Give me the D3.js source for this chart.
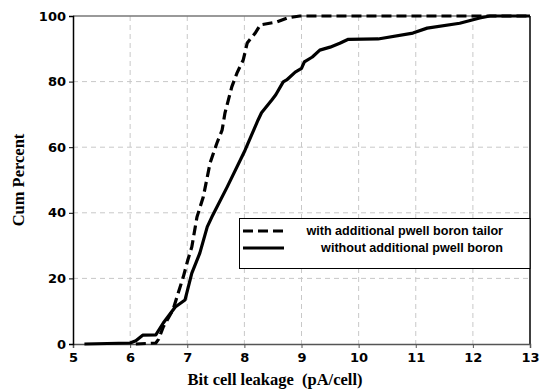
<!DOCTYPE html>
<meta charset="utf-8">
<style>
body { margin: 0; background: #fff; }
.grid line { stroke: #c8c8c8; stroke-width: 1px; stroke-dasharray: 5,4; }
.tick text { font-family: "DejaVu Sans", sans-serif; font-weight: bold; font-size: 13px; fill: #000; }
.title { font-family: "Liberation Serif", serif; font-weight: bold; font-size: 16.5px; }
.legend text { font-family: "Liberation Sans", sans-serif; font-weight: bold; font-size: 12.6px; }
</style>
<body>
<script src="https://cdnjs.cloudflare.com/ajax/libs/d3/7.8.5/d3.min.js"></script>
<script>

var width = 544,
    height = 389,
    margin = {top: 16, right: 14, bottom: 45, left: 73};

// without additional pwell boron (solid)
var withoutX = [5.2, 6.0, 6.1, 6.22, 6.45, 6.58, 6.79, 6.96, 7.08, 7.22, 7.35, 7.43, 7.7, 8.01, 8.24, 8.3, 8.48, 8.55, 8.68, 8.74, 8.89, 9.0, 9.05, 9.19, 9.32, 9.5, 9.67, 9.82, 10.34, 10.95, 11.2, 11.77, 12.12, 12.3, 13];
var withoutP = [0, 0.3, 1, 2.7, 2.8, 6.4, 11.3, 13.4, 21.6, 27.7, 35.7, 38.7, 47.9, 59, 68.3, 70.5, 74.4, 76, 79.9, 80.5, 82.9, 84, 86, 87.5, 89.6, 90.5, 91.7, 92.9, 93, 94.8, 96.3, 97.8, 99.4, 100, 100];

// with additional pwell boron tailor (dashed)
var withX = [6.1, 6.45, 6.5, 6.58, 6.75, 6.84, 6.93, 7.01, 7.08, 7.17, 7.28, 7.40, 7.52, 7.61, 7.66, 7.78, 7.87, 7.98, 8.05, 8.19, 8.28, 8.57, 8.75, 8.97, 13];
var withP = [0, 0.3, 1.5, 5.2, 10.4, 15.5, 20.4, 25.6, 29.6, 38.7, 44.8, 55.2, 61.3, 65.2, 70.4, 78.4, 82.6, 86.6, 91.8, 94.8, 97.3, 98.2, 99.4, 100, 100];

var xTicks = [5, 6, 7, 8, 9, 10, 11, 12, 13];
var yTicks = [0, 20, 40, 60, 80, 100];
var legendLabels = ["with additional pwell boron tailor", "without additional pwell boron"];

var x = d3.scaleLinear().domain([5, 13]).range([margin.left, width - margin.right]);
var y = d3.scaleLinear().domain([0, 100]).range([height - margin.bottom, margin.top]);

var svg = d3.select("body").append("svg")
    .attr("width", width)
    .attr("height", height);

// grid
var grid = svg.append("g").attr("class", "grid");
grid.selectAll(".vx")
    .data(xTicks.slice(1, -1))
  .enter().append("line")
    .attr("x1", function(d) { return x(d); })
    .attr("x2", function(d) { return x(d); })
    .attr("y1", y(100))
    .attr("y2", y(0));
grid.selectAll(".hy")
    .data(yTicks.slice(1, -1))
  .enter().append("line")
    .attr("x1", x(5))
    .attr("x2", x(13))
    .attr("y1", function(d) { return y(d); })
    .attr("y2", function(d) { return y(d); });

// frame
svg.append("line")
    .attr("x1", x(5)).attr("x2", x(13))
    .attr("y1", y(100)).attr("y2", y(100))
    .attr("stroke", "#777").attr("stroke-width", 1.5);
svg.append("line")
    .attr("x1", x(13)).attr("x2", x(13))
    .attr("y1", y(100)).attr("y2", y(0))
    .attr("stroke", "#000").attr("stroke-width", 1.5);

// axes
var xAxis = svg.append("g")
    .attr("transform", "translate(0," + y(0) + ")")
    .call(d3.axisBottom(x).tickValues(xTicks).tickSize(4).tickPadding(5));
xAxis.select(".domain").attr("stroke", "#555").attr("stroke-width", 1.5);
xAxis.selectAll(".tick line").attr("stroke", "#555");

var yAxis = svg.append("g")
    .attr("transform", "translate(" + x(5) + ",0)")
    .call(d3.axisLeft(y).tickValues(yTicks).tickSize(4).tickPadding(3));
yAxis.select(".domain").attr("stroke", "#000").attr("stroke-width", 1.5);

// curves
var line = d3.line()
    .x(function(d) { return x(d[0]); })
    .y(function(d) { return y(d[1]); });

svg.append("path")
    .datum(d3.zip(withoutX, withoutP))
    .attr("fill", "none")
    .attr("stroke", "#000")
    .attr("stroke-width", 3.2)
    .attr("stroke-linejoin", "round")
    .attr("d", line);

svg.append("path")
    .datum(d3.zip(withX, withP))
    .attr("fill", "none")
    .attr("stroke", "#000")
    .attr("stroke-width", 3.2)
    .attr("stroke-dasharray", "10,5")
    .attr("d", line);

// legend
var legend = svg.append("g").attr("class", "legend");
legend.append("rect")
    .attr("x", 239.5).attr("y", 218.5)
    .attr("width", x(13) - 239.5).attr("height", 50)
    .attr("fill", "#fff").attr("stroke", "#000").attr("stroke-width", 1);

legend.selectAll(".item")
    .data(legendLabels)
  .enter().append("g")
    .each(function(d, i) {
      var g = d3.select(this);
      var ly = 231 + i * 17;
      g.append("line")
          .attr("x1", 243).attr("x2", 284)
          .attr("y1", ly).attr("y2", ly)
          .attr("stroke", "#000").attr("stroke-width", 3)
          .attr("stroke-dasharray", i === 0 ? "10,5" : null);
      g.append("text")
          .attr("x", 503).attr("y", ly + 4)
          .attr("text-anchor", "end")
          .text(d);
    });

// titles
svg.append("text")
    .attr("class", "title")
    .attr("transform", "translate(24," + 180 + ")rotate(-90)")
    .attr("text-anchor", "middle")
    .text("Cum Percent");

svg.append("text")
    .attr("class", "title")
    .attr("x", 275).attr("y", 385)
    .attr("text-anchor", "middle")
    .text("Bit cell leakage\u00a0\u00a0(pA/cell)");

</script>
